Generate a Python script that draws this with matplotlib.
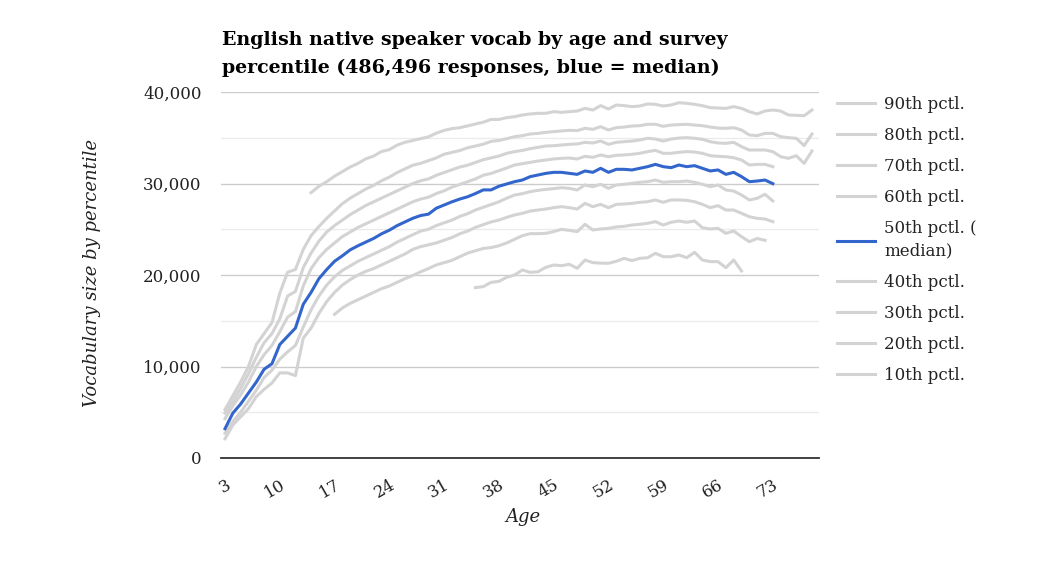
import matplotlib
matplotlib.use('Agg')
import matplotlib.pyplot as plt
from matplotlib.ticker import MultipleLocator, FuncFormatter

# vocab size by age, one list per percentile (first age given separately)
p90_start = 14
p90 = [29000, 29700, 30200, 30800, 31300, 31800, 32200, 32700, 33000, 33500, 33700, 34200, 34500,
       34700, 34900, 35100, 35500, 35800, 36000, 36100, 36300, 36500, 36700, 37000, 37000, 37200,
       37300, 37490, 37600, 37670, 37670, 37850, 37780, 37850, 37920, 38210, 38030, 38510, 38140,
       38580, 38510, 38400, 38470, 38690, 38650, 38470, 38580, 38830, 38760, 38650, 38510, 38290,
       38250, 38210, 38400, 38210, 37850, 37600, 37920, 38030, 37920, 37490, 37450, 37410, 38030]

p80_start = 3
p80 = [5300, 6800, 8300, 10000, 12400, 13600, 14800, 18000, 20300, 20600, 22800, 24300, 25300,
       26200, 27000, 27800, 28400, 28900, 29400, 29800, 30300, 30700, 31200, 31600, 32000, 32200,
       32500, 32800, 33200, 33400, 33600, 33900, 34100, 34300, 34600, 34700, 34900,
       35120, 35230, 35410, 35480, 35590, 35670, 35740, 35810, 35780, 36030, 35920, 36210, 35850,
       36100, 36170, 36280, 36320, 36470, 36470, 36250, 36390, 36430, 36470, 36390, 36320, 36170,
       36060, 36030, 36100, 35850, 35300, 35230, 35480, 35480, 35120, 35010, 34940, 34140, 35410]

p70_start = 3
p70 = [4900, 6200, 7600, 9200, 11000, 12600, 13600, 15200, 17700, 18200, 20800, 22400, 23700,
       24700, 25400, 26000, 26600, 27100, 27600, 28000, 28400, 28800, 29200, 29600, 30000, 30300,
       30500, 30900, 31200, 31500, 31800, 32000, 32300, 32600, 32800, 33000, 33300,
       33480, 33620, 33810, 33950, 34100, 34130, 34210, 34280, 34320, 34500, 34430, 34640, 34280,
       34500, 34570, 34640, 34750, 34940, 34860, 34640, 34860, 34970, 35010, 34940, 34830, 34570,
       34430, 34390, 34500, 34030, 33660, 33660, 33660, 33480, 32930, 32750, 33040, 32200, 33550]

p60_start = 3
p60 = [4300, 5700, 6900, 8300, 10000, 11300, 12300, 13800, 15400, 16000, 18800, 20700, 21900,
       22800, 23500, 24200, 24700, 25200, 25600, 26000, 26400, 26800, 27200, 27600, 28000, 28300,
       28500, 28900, 29200, 29600, 29900, 30200, 30500, 30900, 31100, 31400, 31700,
       32020, 32170, 32310, 32460, 32570, 32680, 32750, 32790, 32680, 32970, 32860, 33120, 32930,
       33080, 33120, 33190, 33300, 33480, 33620, 33300, 33300, 33410, 33480, 33440, 33300, 33040,
       32970, 32930, 32820, 32570, 32020, 32090, 32090, 31840]

p50_start = 3
p50 = [3200, 4900, 5900, 7100, 8300, 9700, 10300, 12400, 13300, 14200, 16800, 18100, 19600,
       20600, 21500, 22100, 22750, 23200, 23600, 24000, 24500, 24900, 25400, 25800, 26200, 26500,
       26650, 27300, 27650, 28000, 28300, 28550, 28900, 29300, 29300, 29700, 29950,
       30200, 30380, 30750, 30930, 31110, 31220, 31220, 31110, 31000, 31370, 31220, 31660, 31220,
       31550, 31550, 31480, 31660, 31840, 32090, 31840, 31730, 32020, 31840, 31950, 31660, 31370,
       31480, 31000, 31220, 30750, 30200, 30270, 30380, 29980]

p40_start = 3
p40 = [2700, 4000, 5000, 6200, 7400, 8800, 9600, 10800, 11600, 12300, 14300, 16200, 17700,
       18900, 19800, 20500, 21000, 21500, 21900, 22300, 22700, 23100, 23600, 24000, 24400, 24800,
       25000, 25400, 25700, 26000, 26400, 26700, 27100, 27400, 27700, 28000, 28400,
       28740, 28890, 29110, 29250, 29360, 29440, 29540, 29470, 29290, 29840, 29650, 29910, 29470,
       29840, 29910, 30020, 30130, 30200, 30380, 30130, 30200, 30200, 30270, 30130, 29910, 29650,
       29840, 29290, 29180, 28740, 28200, 28380, 28820, 28090]

p30_start = 3
p30 = [2100, 3600, 4500, 5400, 6700, 7500, 8200, 9300, 9300, 9000, 13100, 14200, 15800,
       17100, 18100, 18900, 19500, 20000, 20400, 20700, 21100, 21500, 21900, 22300, 22800, 23100,
       23300, 23500, 23800, 24100, 24500, 24800, 25200, 25500, 25800, 26000, 26300,
       26560, 26740, 26990, 27100, 27210, 27360, 27470, 27360, 27210, 27830, 27470, 27720, 27360,
       27720, 27760, 27830, 27940, 28010, 28200, 27940, 28200, 28200, 28160, 28010, 27720, 27360,
       27580, 27100, 27100, 26740, 26370, 26190, 26120, 25830]

p20_start = 17
p20 = [15700, 16400, 16900, 17300, 17700, 18100, 18500, 18800, 19200, 19600, 19950, 20350,
       20700, 21100, 21350, 21600, 22000, 22400, 22650, 22900, 23000, 23200, 23500, 23900,
       24300, 24520, 24520, 24550, 24740, 24990, 24880, 24740, 25540, 24920, 25030, 25100, 25250,
       25320, 25460, 25540, 25650, 25830, 25460, 25760, 25900, 25760, 25900, 25170, 25030, 25100,
       24550, 24810, 24190, 23640, 23990, 23790]

p10_start = 35
p10 = [18620, 18730, 19200, 19300, 19750, 20000, 20550, 20290, 20360, 20840, 21090, 21020,
       21170, 20730, 21640, 21350, 21300, 21280, 21500, 21820, 21570, 21820, 21890, 22370, 22000,
       22000, 22190, 21890, 22480, 21640, 21460, 21460, 20800, 21640, 20440]

series = [
    ('90th pctl.', p90_start, p90),
    ('80th pctl.', p80_start, p80),
    ('70th pctl.', p70_start, p70),
    ('60th pctl.', p60_start, p60),
    ('50th pctl. (\nmedian)', p50_start, p50),
    ('40th pctl.', p40_start, p40),
    ('30th pctl.', p30_start, p30),
    ('20th pctl.', p20_start, p20),
    ('10th pctl.', p10_start, p10),
]
age_ticks = [3, 10, 17, 24, 31, 38, 45, 52, 59, 66, 73]

GRAY = '#d3d3d3'
BLUE = '#3366cc'
plt.rcParams['font.family'] = ['DejaVu Serif']

fig = plt.figure(figsize=(10.42, 5.64), dpi=100)
ax = fig.add_axes([221 / 1042, 1 - 458 / 564, 598 / 1042, 366 / 564])

handles = {}
for name, start, vals in series:
    ages = list(range(start, start + len(vals)))
    if name.startswith('50th'):
        ln, = ax.plot(ages, vals, color=BLUE, lw=2.2, zorder=5)
    else:
        ln, = ax.plot(ages, vals, color=GRAY, lw=2.2, zorder=3)
    handles[name] = ln

ax.set_xlim(2.49, 78.9)
ax.set_ylim(0, 40000)
ax.yaxis.set_major_locator(MultipleLocator(10000))
ax.yaxis.set_minor_locator(MultipleLocator(5000))
ax.yaxis.set_major_formatter(FuncFormatter(lambda v, p: '{:,.0f}'.format(v)))
ax.grid(axis='y', which='major', color='#cccccc', lw=1)
ax.grid(axis='y', which='minor', color='#ebebeb', lw=1)
ax.set_axisbelow(True)
for s in ['top', 'right', 'left']:
    ax.spines[s].set_visible(False)
ax.spines['bottom'].set_color('#333333')
ax.spines['bottom'].set_linewidth(1.3)
ax.tick_params(axis='both', which='both', length=0, labelsize=12, colors='#222222')
ax.tick_params(axis='y', pad=14)
ax.set_xticks(age_ticks)
ax.set_xticklabels([str(a) for a in age_ticks], rotation=30, ha='right', rotation_mode='anchor')
ax.tick_params(axis='x', pad=13)

fig.text(92 / 1042, 1 - 273 / 564, 'Vocabulary size by percentile', rotation=90,
         ha='center', va='center', fontsize=13, style='italic', color='#222222')
fig.text(523 / 1042, 1 - 517 / 564, 'Age', ha='center', va='center',
         fontsize=13, style='italic', color='#222222')
fig.text(222 / 1042, 1 - 31 / 564,
         'English native speaker vocab by age and survey\npercentile (486,496 responses, blue = median)',
         ha='left', va='top', fontsize=13.7, fontweight='bold', color='#000000', linespacing=1.68)

names = [s[0] for s in series]
leg = fig.legend([handles[n] for n in names], names, loc='upper left',
                 bbox_to_anchor=(822 / 1042, 1 - 81 / 564), frameon=False, fontsize=12,
                 handlelength=2.3, handletextpad=0.55, labelspacing=0.84)
for t in leg.get_texts():
    t.set_color('#222222')
    if '\n' in t.get_text():
        t.set_linespacing(1.45)

fig.savefig('out.png', dpi=100)
